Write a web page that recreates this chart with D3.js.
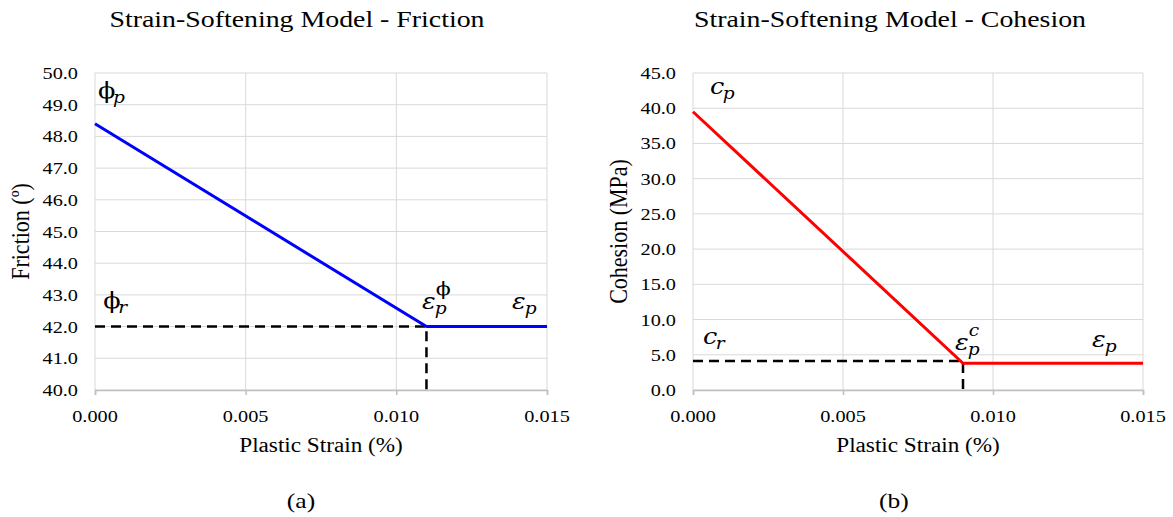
<!doctype html>
<html>
<head>
<meta charset="utf-8">
<title>Strain-Softening Model</title>
<style>
  body { margin:0; background:#fff; }
  svg { display:block; }
  .grid line { stroke:#d9d9d9; stroke-width:1px; }
  .serif { font-family:"Liberation Serif","Times New Roman",serif; fill:#000; }
  .math { font-family:"DejaVu Serif",serif; fill:#000; }
</style>
<script src="https://d3js.org/d3.v7.min.js"></script>
</head>
<body>
<svg id="fig" width="1173" height="517"></svg>
<script>
// data
var strainTicks = [0, 0.005, 0.010, 0.015];
var frictionTicks = [40, 41, 42, 43, 44, 45, 46, 47, 48, 49, 50];
var cohesionTicks = [0, 5, 10, 15, 20, 25, 30, 35, 40, 45];

var frictionStrain = [0, 0.011, 0.015];
var frictionValue = [48.4, 42.0, 42.0];
var frictionRefStrain = [0, 0.011, 0.011];
var frictionRefValue = [42.0, 42.0, 40.0];

var cohesionStrain = [0, 0.009, 0.015];
var cohesionValue = [39.5, 3.8, 3.8];
var cohesionRefStrain = [0, 0.009, 0.009];
var cohesionRefValue = [4.1, 4.1, 0];

// the picture is a bit wider than tall, so text is stretched sideways
var SX = 1.16;

var svg = d3.select("#fig");

function txt(g, x, y, s, size, cls, anchor) {
  return g.append("text")
    .attr("class", cls || "serif")
    .attr("transform", "translate(" + x + "," + y + ") scale(" + SX + ",1)")
    .attr("text-anchor", anchor || "start")
    .style("font-size", size + "px")
    .text(s);
}

// small math label: main glyph, subscript and optional superscript
function mathLabel(g, x, y, main, sub, sup, upright) {
  var t = g.append("g").attr("transform", "translate(" + x + "," + y + ") scale(" + SX + ",1)");
  t.append("text").attr("class", "math")
    .style("font-size", "22px").style("font-style", upright ? "normal" : "italic")
    .text(main);
  var w = upright ? 13 : 11;
  t.append("text").attr("class", "math").attr("x", w).attr("y", 5)
    .style("font-size", "16px").style("font-style", "italic").text(sub);
  if (sup) {
    t.append("text").attr("class", "math").attr("x", w + 1).attr("y", -14)
      .style("font-size", sup == "\u03D5" ? "19px" : "16px")
      .style("font-style", sup == "\u03D5" ? "normal" : "italic").text(sup);
  }
}

function panel(opt) {
  var x = d3.scaleLinear().domain([0, 0.015]).range([opt.left, opt.right]);
  var y = d3.scaleLinear().domain(opt.yDomain).range([390, 73]);
  var g = svg.append("g");

  // grid
  var grid = g.append("g").attr("class", "grid");
  grid.selectAll(".h").data(opt.yTicks).enter().append("line")
    .attr("x1", x(0)).attr("x2", x(0.015))
    .attr("y1", function(d){ return y(d); }).attr("y2", function(d){ return y(d); });
  grid.selectAll(".v").data(strainTicks).enter().append("line")
    .attr("y1", y(opt.yDomain[0])).attr("y2", y(opt.yDomain[1]))
    .attr("x1", function(d){ return x(d); }).attr("x2", function(d){ return x(d); });

  // bottom axis with small ticks
  var ax = g.append("g").attr("transform", "translate(0," + y(opt.yDomain[0]) + ")")
    .call(d3.axisBottom(x).tickValues(strainTicks).tickSize(5).tickFormat(""));
  ax.select(".domain").attr("stroke", "#bfbfbf").attr("stroke-width", 1.5);
  ax.selectAll(".tick line").attr("stroke", "#bfbfbf").attr("stroke-width", 1.5);

  strainTicks.forEach(function(d){
    txt(g, x(d), 422, d3.format(".3f")(d), 17.5, "serif", "middle");
  });
  opt.yTicks.forEach(function(d){
    txt(g, x(0) - 17, y(d) + 6, d3.format(".1f")(d), 17.5, "serif", "end");
  });

  // dashed reference
  var ref = d3.range(opt.refX.length).map(function(i){ return [opt.refX[i], opt.refY[i]]; });
  g.append("path").datum(ref)
    .attr("d", d3.line().x(function(d){ return x(d[0]); }).y(function(d){ return y(d[1]); }))
    .attr("fill", "none").attr("stroke", "#000").attr("stroke-width", 2.5)
    .attr("stroke-dasharray", "10,6");

  // model line
  var pts = d3.range(opt.sx.length).map(function(i){ return [opt.sx[i], opt.sy[i]]; });
  g.append("path").datum(pts)
    .attr("d", d3.line().x(function(d){ return x(d[0]); }).y(function(d){ return y(d[1]); }))
    .attr("fill", "none").attr("stroke", opt.color).attr("stroke-width", 3);

  // titles
  txt(g, opt.center, 27, opt.title, 24, "serif", "middle");
  txt(g, (x(0) + x(0.015)) / 2, 452, "Plastic Strain (%)", 20, "serif", "middle");
  txt(g, opt.center + 4, 508, opt.tag, 22, "serif", "middle");
  g.append("text").attr("class", "serif")
    .attr("transform", "translate(" + opt.yTitleX + "," + ((y(opt.yDomain[0]) + y(opt.yDomain[1])) / 2) + ") scale(" + SX + ",1) rotate(-90)")
    .attr("text-anchor", "middle").style("font-size", "22px").text(opt.yTitle);

  opt.labels.forEach(function(l){
    mathLabel(g, x(l.at[0]), y(l.at[1]), l.main, l.sub, l.sup, l.upright);
  });
}

panel({
  left: 95, right: 547, center: 297, yDomain: [40, 50], yTicks: frictionTicks,
  sx: frictionStrain, sy: frictionValue, refX: frictionRefStrain, refY: frictionRefValue,
  color: "#0000ff", title: "Strain-Softening Model - Friction", tag: "(a)",
  yTitle: "Friction (\u00BA)", yTitleX: 29,
  labels: [
    { at: [0.0001, 49.2], main: "\u03D5", sub: "p", upright: true },
    { at: [0.00027, 42.6], main: "\u03D5", sub: "r", upright: true },
    { at: [0.01085, 42.55], main: "\u03B5", sub: "p", sup: "\u03D5" },
    { at: [0.01384, 42.55], main: "\u03B5", sub: "p" }
  ]
});

panel({
  left: 693, right: 1143, center: 890, yDomain: [0, 45], yTicks: cohesionTicks,
  sx: cohesionStrain, sy: cohesionValue, refX: cohesionRefStrain, refY: cohesionRefValue,
  color: "#ff0000", title: "Strain-Softening Model - Cohesion", tag: "(b)",
  yTitle: "Cohesion (MPa)", yTitleX: 627,
  labels: [
    { at: [0.00057, 42.0], main: "c", sub: "p" },
    { at: [0.00033, 6.5], main: "c", sub: "r" },
    { at: [0.00873, 5.7], main: "\u03B5", sub: "p", sup: "c" },
    { at: [0.0133, 6.1], main: "\u03B5", sub: "p" }
  ]
});
</script>
</body>
</html>
